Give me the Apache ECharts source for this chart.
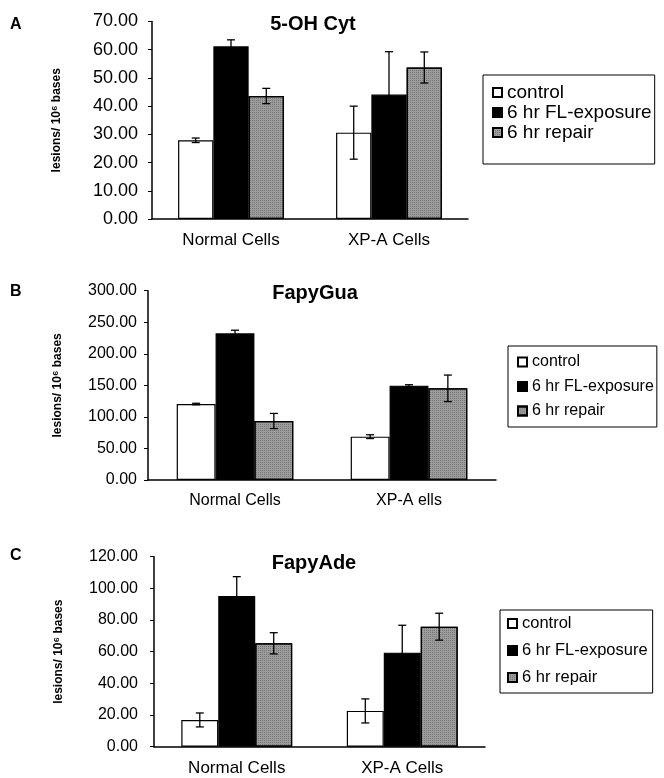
<!DOCTYPE html>
<html>
<head>
<meta charset="utf-8">
<script src="https://cdn.jsdelivr.net/npm/echarts@6/dist/echarts.min.js"></script>
<style>
  body { margin: 0; background: #fff; }
  #chart { width: 664px; height: 778px; }
</style>
</head>
<body>
<div id="chart"></div>
<script>
const seriesNames = ['control', '6 hr FL-exposure', '6 hr repair'];
const categoriesA = ['Normal Cells', 'XP-A Cells'];
const categoriesB = ['Normal Cells', 'XP-A ells'];
const categoriesC = ['Normal Cells', 'XP-A Cells'];

// 5-OH Cyt
const cytControl = [27.9, 30.6];
const cytExposure = [61.2, 44.1];
const cytRepair = [43.6, 53.7];
const cytControlErr = [0.8, 9.4];
const cytExposureErr = [2.3, 15.2];
const cytRepairErr = [2.7, 5.5];

// FapyGua
const guaControl = [120.4, 68.7];
const guaExposure = [232.4, 149.5];
const guaRepair = [93.5, 145.3];
const guaControlErr = [1.2, 3];
const guaExposureErr = [5, 1.5];
const guaRepairErr = [12, 21];

// FapyAde
const adeControl = [16.9, 22.6];
const adeExposure = [95.2, 59.4];
const adeRepair = [65.3, 75.8];
const adeControlErr = [4.4, 7.6];
const adeExposureErr = [12.2, 17.3];
const adeRepairErr = [6.7, 8.5];

const font = 'Liberation Sans, Arial, sans-serif';
const gap = 0.33;

const styles = [
    { color: '#fff', borderColor: '#000', borderWidth: 1.2 },
    { color: '#000', borderColor: '#000', borderWidth: 1.2 },
    {
        color: '#9c9c9c', borderColor: '#000', borderWidth: 1.2,
        decal: { symbol: 'rect', symbolSize: 1, dashArrayX: [[1, 1]], dashArrayY: [1, 1], color: 'rgba(50,50,50,0.35)' }
    }
];

function bars(idx, values) {
    return values.map((vals, i) => ({
        name: seriesNames[i],
        type: 'bar',
        xAxisIndex: idx,
        yAxisIndex: idx,
        barGap: '0%',
        barCategoryGap: '33%',
        itemStyle: styles[i],
        data: vals
    }));
}

function errors(idx, values, errs) {
    const rows = [];
    values.forEach((vals, s) => {
        vals.forEach((v, c) => rows.push([c, s, v, errs[s][c]]));
    });
    return {
        name: 'err',
        type: 'custom',
        xAxisIndex: idx,
        yAxisIndex: idx,
        z: 5,
        silent: true,
        renderItem: function (params, api) {
            const c = api.value(0), s = api.value(1), v = api.value(2), e = api.value(3);
            const catW = api.size([1, 0])[0];
            const barW = catW * (1 - gap) / 3;
            const x = api.coord([c, v])[0] + (s - 1) * barW;
            const top = api.coord([c, v + e])[1];
            const bot = api.coord([c, v - e])[1];
            const st = { stroke: '#000', lineWidth: 1.3 };
            return {
                type: 'group',
                children: [
                    { type: 'line', shape: { x1: x, y1: top, x2: x, y2: bot }, style: st },
                    { type: 'line', shape: { x1: x - 4, y1: top, x2: x + 4, y2: top }, style: st },
                    { type: 'line', shape: { x1: x - 4, y1: bot, x2: x + 4, y2: bot }, style: st }
                ]
            };
        },
        data: rows
    };
}

function xAxis(idx, cats, size) {
    return {
        type: 'category', gridIndex: idx, data: cats,
        axisLine: { lineStyle: { color: '#000', width: 1.5 } },
        axisTick: { length: 3, lineStyle: { color: '#000' } },
        axisLabel: { color: '#000', fontSize: size, fontFamily: font, margin: 13 }
    };
}

function yAxis(idx, max, interval, size, margin, nameGap) {
    return {
        type: 'value', gridIndex: idx, min: 0, max: max, interval: interval,
        name: 'lesions/ 10\u2076 bases', nameLocation: 'middle', nameRotate: 90, nameGap: nameGap,
        nameTextStyle: { color: '#000', fontSize: 12, fontWeight: 'bold', fontFamily: font },
        axisLine: { show: true, lineStyle: { color: '#000', width: 1.5 } },
        axisTick: { show: true, length: 4, lineStyle: { color: '#000' } },
        splitLine: { show: false },
        axisLabel: { color: '#000', fontSize: size, fontFamily: font, margin: margin,
            formatter: v => v.toFixed(2) }
    };
}

function legend(left, top, size, gapY, padding) {
    return {
        orient: 'vertical', left: left, top: top, data: seriesNames,
        icon: 'rect',
        itemWidth: 9, itemHeight: 9, itemGap: gapY, padding: padding,
        borderColor: '#000', borderWidth: 1, backgroundColor: '#fff', borderRadius: 0,
        selectedMode: false,
        textStyle: { color: '#000', fontSize: size, fontFamily: font }
    };
}

const titleStyle = (s) => ({ fontSize: s, fontWeight: 'bold', color: '#000', fontFamily: font });

const cytVals = [cytControl, cytExposure, cytRepair];
const guaVals = [guaControl, guaExposure, guaRepair];
const adeVals = [adeControl, adeExposure, adeRepair];

const option = {
    animation: false,
    backgroundColor: '#fff',
    title: [
        { text: 'A', left: 10, top: 17, padding: 0, textStyle: titleStyle(16) },
        { text: 'B', left: 10, top: 284, padding: 0, textStyle: titleStyle(16) },
        { text: 'C', left: 10, top: 548, padding: 0, textStyle: titleStyle(16) },
        { text: '5-OH Cyt', left: 313, textAlign: 'center', top: 14, padding: 0, textStyle: titleStyle(20) },
        { text: 'FapyGua', left: 315, textAlign: 'center', top: 283, padding: 0, textStyle: titleStyle(20) },
        { text: 'FapyAde', left: 314, textAlign: 'center', top: 553, padding: 0, textStyle: titleStyle(20) }
    ],
    legend: [
        legend(483, 75, 19, 1, [8, 3, 22, 9]),
        legend(508, 346, 16, 8.5, [8, 3, 8, 9]),
        legend(500, 610, 16.5, 10, [5, 5, 7, 7])
    ],
    grid: [
        { left: 152, top: 21.5, width: 316, height: 197.5 },
        { left: 148, top: 290.7, width: 348, height: 189.3 },
        { left: 154, top: 556.7, width: 331, height: 190 }
    ],
    xAxis: [
        xAxis(0, categoriesA, 17),
        xAxis(1, categoriesB, 16),
        xAxis(2, categoriesC, 17)
    ],
    yAxis: [
        yAxis(0, 70, 10, 18, 14, 89),
        yAxis(1, 300, 50, 16, 11, 84),
        yAxis(2, 120, 20, 16, 16, 89)
    ],
    series: [
        ...bars(0, cytVals), errors(0, cytVals, [cytControlErr, cytExposureErr, cytRepairErr]),
        ...bars(1, guaVals), errors(1, guaVals, [guaControlErr, guaExposureErr, guaRepairErr]),
        ...bars(2, adeVals), errors(2, adeVals, [adeControlErr, adeExposureErr, adeRepairErr])
    ]
};

const chart = echarts.init(document.getElementById('chart'), null, { renderer: 'canvas' });
chart.setOption(option);
</script>
</body>
</html>
